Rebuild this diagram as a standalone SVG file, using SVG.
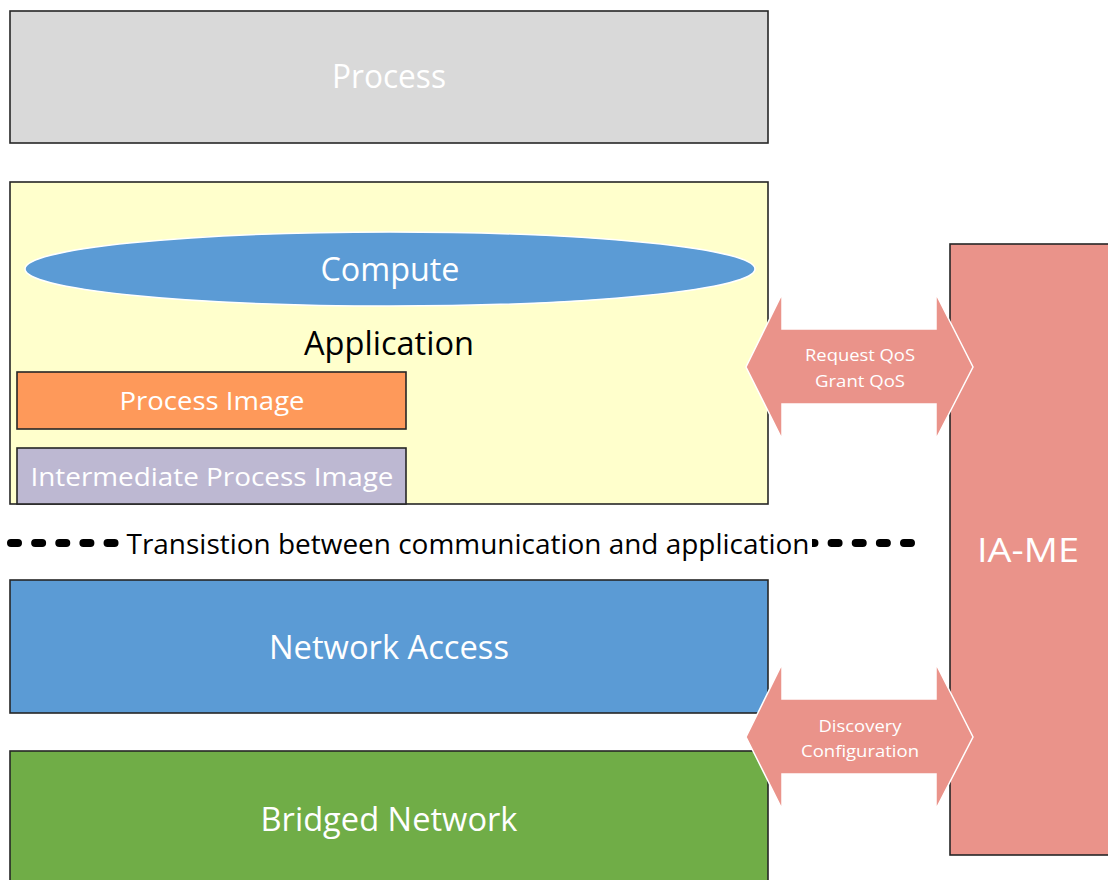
<svg xmlns="http://www.w3.org/2000/svg" width="1108" height="880" viewBox="0 0 1108 880">
  <defs>
    <style>
      .box { stroke: #262626; stroke-width: 1.6; }
      .lbl { font-family: "Open Sans", "Liberation Sans", sans-serif; fill: #ffffff; text-anchor: middle; }
      .big { font-size: 33px; }
      .mid { font-size: 26px; }
      .small { font-size: 17px; }
      .dark { fill: #000000; }
      .arrow { fill: #ea938a; stroke: #ffffff; stroke-width: 1.5; }
      .dots { stroke: #000000; stroke-width: 8; stroke-linecap: round; stroke-dasharray: 7 17.135; fill: none; }
    </style>
  </defs>

  <rect width="1108" height="880" fill="#ffffff"/>

  <!-- Process layer -->
  <g id="process">
    <rect class="box" x="10" y="11" width="758" height="132" fill="#d9d9d9"/>
    <text class="lbl big" x="389" y="88" textLength="114" lengthAdjust="spacingAndGlyphs">Process</text>
  </g>

  <!-- Application layer with its inner parts -->
  <g id="application">
    <rect class="box" x="10" y="182" width="758" height="322" fill="#ffffcc"/>
    <text class="lbl big dark" x="389" y="355" textLength="170" lengthAdjust="spacingAndGlyphs">Application</text>
  </g>

  <g id="compute">
    <ellipse cx="390" cy="269" rx="365" ry="37" fill="#5b9bd5" stroke="#ffffff" stroke-width="1.5"/>
    <text class="lbl big" x="390" y="281" textLength="139" lengthAdjust="spacingAndGlyphs">Compute</text>
  </g>

  <g id="process-image">
    <rect class="box" x="17" y="372" width="389" height="57" fill="#fe995a"/>
    <text class="lbl mid" x="212" y="410" textLength="185" lengthAdjust="spacingAndGlyphs">Process Image</text>
  </g>

  <g id="intermediate-process-image">
    <rect class="box" x="17" y="448" width="389" height="56" fill="#bdb8d2"/>
    <text class="lbl mid" x="212" y="486" textLength="363" lengthAdjust="spacingAndGlyphs">Intermediate Process Image</text>
  </g>

  <!-- Boundary between communication and application -->
  <g id="transition">
    <line class="dots" x1="11" y1="543" x2="911" y2="543"/>
    <rect x="121" y="526" width="691" height="36" fill="#ffffff"/>
    <text class="lbl dark" x="468" y="554" font-size="28" textLength="683" lengthAdjust="spacingAndGlyphs">Transistion between communication and application</text>
  </g>

  <!-- Communication layers -->
  <g id="network-access">
    <rect class="box" x="10" y="580" width="758" height="133" fill="#5b9bd5"/>
    <text class="lbl big" x="389" y="659" textLength="240" lengthAdjust="spacingAndGlyphs">Network Access</text>
  </g>

  <g id="bridged-network">
    <rect class="box" x="10" y="751" width="758" height="140" fill="#70ad47"/>
    <text class="lbl big" x="389" y="831" textLength="257" lengthAdjust="spacingAndGlyphs">Bridged Network</text>
  </g>

  <!-- Management entity -->
  <g id="ia-me">
    <rect class="box" x="950" y="244" width="170" height="611" fill="#ea938a"/>
    <text class="lbl big" x="1028" y="562" textLength="102" lengthAdjust="spacingAndGlyphs">IA-ME</text>
  </g>

  <!-- Two-way exchanges with the management entity -->
  <g id="connectors">
    <g id="qos-exchange">
      <polygon class="arrow" points="746,367 782,294 782,329 936,329 936,294 973,367 936,439 936,404 782,404 782,439"/>
      <text class="lbl small" x="860" y="361" textLength="110" lengthAdjust="spacingAndGlyphs">Request QoS</text>
      <text class="lbl small" x="860" y="387" textLength="90" lengthAdjust="spacingAndGlyphs">Grant QoS</text>
    </g>
    <g id="discovery-exchange">
      <polygon class="arrow" points="746,737 782,664 782,699 936,699 936,664 973,737 936,809 936,774 782,774 782,809"/>
      <text class="lbl small" x="860" y="732" textLength="83" lengthAdjust="spacingAndGlyphs">Discovery</text>
      <text class="lbl small" x="860" y="757" textLength="118" lengthAdjust="spacingAndGlyphs">Configuration</text>
    </g>
  </g>
</svg>
